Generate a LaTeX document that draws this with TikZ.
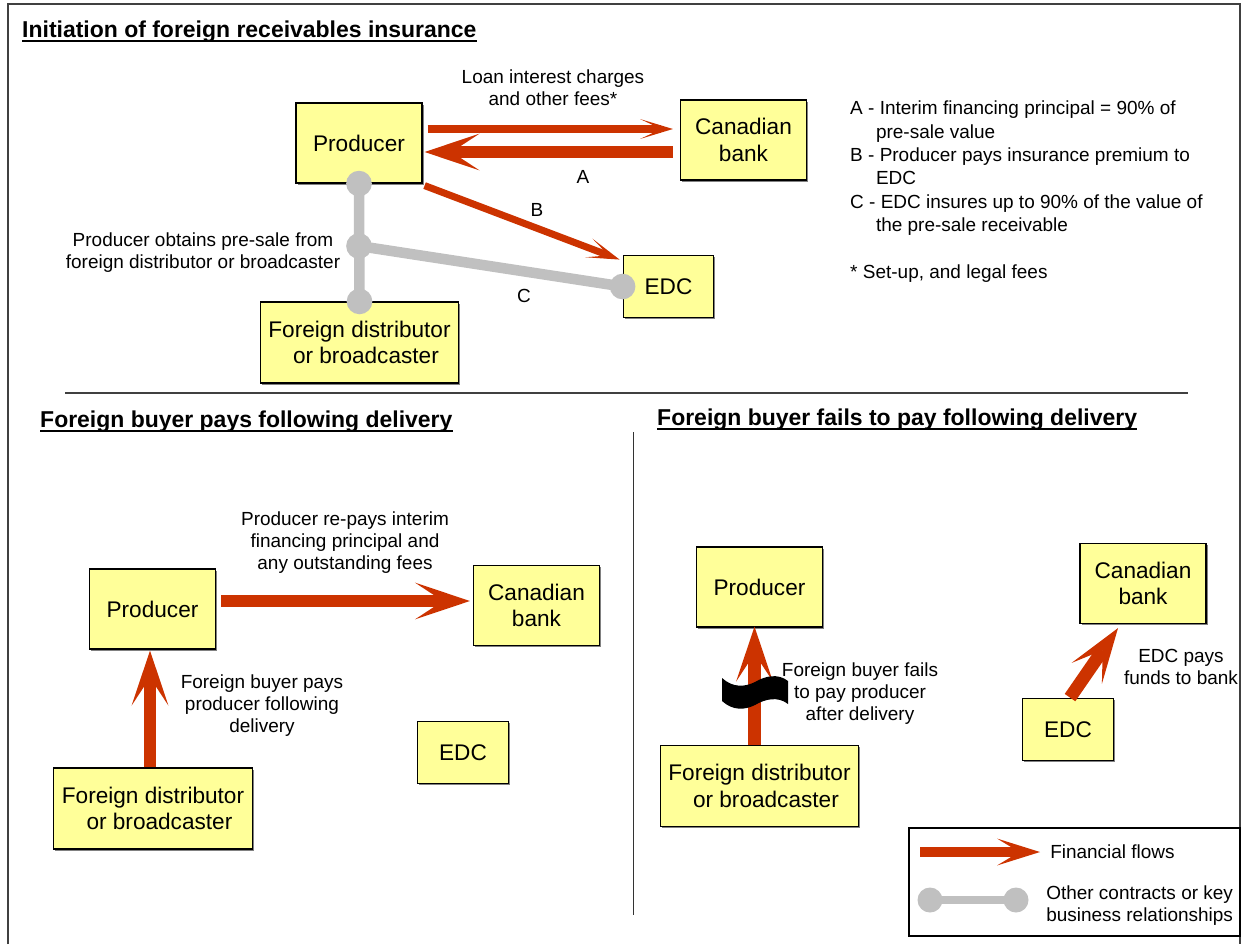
\documentclass[tikz,border=0pt]{standalone}
\usepackage{fontspec}
\setmainfont{Liberation Sans}
\usetikzlibrary{arrows.meta,calc,shadows}

\definecolor{boxyellow}{HTML}{FFFF99}
\definecolor{flowred}{HTML}{CC3300}
\definecolor{linkgrey}{HTML}{C0C0C0}

\tikzset{
  box/.style={draw=black, line width=1pt, fill=boxyellow, align=center, inner sep=2pt,
    font=\fontsize{19.3}{22.5}\selectfont,
    drop shadow={shadow xshift=1.3pt, shadow yshift=-1.3pt, fill=black!55, opacity=.9}},
  widebox/.style={box, minimum width=3.78cm, minimum height=2.4cm},
  smallbox/.style={box, minimum width=2.72cm, minimum height=1.88cm},
  distbox/.style={box, minimum width=5.96cm, minimum height=2.43cm},
  lbl/.style={align=center, inner sep=0pt, font=\fontsize{16.2}{18.8}\selectfont},
  heading/.style={anchor=base west, inner sep=0pt, font=\bfseries\fontsize{19.6}{23}\selectfont},
  thinflow/.style={draw=flowred, line width=6pt,
    -{Stealth[length=28pt, width=17pt, inset=18pt, line width=0pt]}},
  thickflow/.style={draw=flowred, line width=11pt,
    -{Stealth[length=47pt, width=31.5pt, inset=24pt, line width=0pt]}},
  legflow/.style={draw=flowred, line width=8.5pt,
    -{Stealth[length=36.7pt, width=23pt, inset=19pt, line width=0pt]}},
  link/.style={draw=linkgrey, line width=9pt},
  rule/.style={draw=black!75, line width=1.5pt}
}

\begin{document}
\begin{tikzpicture}[x=0.03cm, y=-0.03cm]
  \useasboundingbox (0,0) rectangle (1243,944);
  \draw[rule] (8,944) -- (8,4) -- (1240,4) -- (1240,944);

  % initiation
  \node[heading] (t1) at (22,37) {Initiation of foreign receivables insurance};
  \draw[line width=2pt] ($(t1.base west)+(0,4)$) -- ($(t1.base east)+(0,4)$);

  \node[widebox] (p1) at (359,143) {Producer};
  \node[widebox] (b1) at (743.5,140) {Canadian\\bank};
  \node[smallbox] (e1) at (668.5,286.5) {EDC};
  \node[distbox] (d1) at (359.5,342.5) {Foreign distributor\\\hspace*{11pt}or broadcaster};

  \draw[thinflow] ($(p1.east)+(5,-14)$) -- ($(b1.west)+(-7,-11)$);
  \draw[thickflow] ($(b1.west)+(-7,12)$) -- ($(p1.east)+(2,9)$);
  \draw[thinflow] ($(p1.south east)+(2,2)$) -- ($(e1.north west)+(-3,5)$);

  \coordinate (j1) at (359,246);
  \draw[link] (p1.south) -- (d1.north);
  \draw[link] (j1) -- (e1.west);
  \foreach \pt in {p1.south, j1, d1.north, e1.west}
    \fill[linkgrey] (\pt) circle (0.385cm);

  \node[lbl] (lf) at (553,88) {Loan interest charges\\and other fees*};
  \node[lbl] (la) at (583,177) {A};
  \node[lbl] (lb) at (537,210) {B};
  \node[lbl] (lc) at (524,296) {C};
  \node[lbl] (lo) at (203,253) {Producer obtains pre-sale from\\foreign distributor or broadcaster};
  \node[lbl, align=left, anchor=north west, font=\fontsize{16.2}{19.9}\selectfont] (nt) at (850,101)
    {A - Interim financing principal = 90\% of\\
     \hspace*{22pt}pre-sale value\\
     B - Producer pays insurance premium to\\
     \hspace*{22pt}EDC\\
     C - EDC insures up to 90\% of the value of\\
     \hspace*{22pt}the pre-sale receivable\\[19.9pt]
     * Set-up, and legal fees};

  \draw[rule] (65,393) -- (1188,393);

  % buyer pays
  \node[heading] (t2) at (40,427) {Foreign buyer pays following delivery};
  \draw[line width=2pt] ($(t2.base west)+(0,4)$) -- ($(t2.base east)+(0,4)$);

  \node[widebox] (p2) at (152.5,609) {Producer};
  \node[widebox] (b2) at (536.5,605.5) {Canadian\\bank};
  \node[smallbox] (e2) at (463,752.5) {EDC};
  \node[distbox] (d2) at (153,808.5) {Foreign distributor\\\hspace*{11pt}or broadcaster};

  \draw[thickflow] ($(p2.east)+(5,-8)$) -- ($(b2.west)+(-3,-4.5)$);
  \draw[thickflow] ($(d2.north)+(-3,0)$) -- ($(p2.south)+(-2.5,1)$);

  \node[lbl] (lr) at (345,543) {Producer re-pays interim\\financing principal and\\any outstanding fees};
  \node[lbl] (lp) at (262,706) {Foreign buyer pays\\producer following\\delivery};

  \draw[draw=black!80, line width=.8pt] (633,432) -- (633,915);

  % buyer fails
  \node[heading] (t3) at (657,425) {Foreign buyer fails to pay following delivery};
  \draw[line width=2pt] ($(t3.base west)+(0,4)$) -- ($(t3.base east)+(0,4)$);

  \node[widebox] (p3) at (759.5,587) {Producer};
  \node[distbox] (d3) at (759.5,786) {Foreign distributor\\\hspace*{11pt}or broadcaster};
  \node[widebox] (b3) at (1143,583.5) {Canadian\\bank};
  \node[smallbox] (e3) at (1068,729.5) {EDC};

  \draw[thickflow] ($(d3.north)+(-5,0)$) -- ($(p3.south)+(-5,-1)$);
  \fill[black] (722,678) .. controls (733,688) and (745,687) .. (755,682)
    .. controls (765,676) and (778,673) .. (788,681) -- (788,704)
    .. controls (778,696) and (765,699) .. (755,705)
    .. controls (745,710) and (733,711) .. (722,701) -- cycle;
  \draw[thickflow] ($(e3.north)+(2,0)$) -- ($(b3.south)+(-25,4)$);

  \node[lbl] (lx) at (860,694) {Foreign buyer fails\\to pay producer\\after delivery};
  \node[lbl] (le) at (1181,667) {EDC pays\\funds to bank};

  % key
  \draw[line width=1pt] (909,828) rectangle (1240,936);
  \coordinate (fa) at (920,852);
  \coordinate (fb) at (1040,852);
  \draw[legflow] (fa) -- (fb);
  \node[lbl, anchor=west] (lt1) at (1050,852) {Financial flows};
  \coordinate (ga) at (930,900);
  \coordinate (gb) at (1016,900);
  \draw[link, line width=7pt] (ga) -- (gb);
  \foreach \pt in {ga, gb}
    \fill[linkgrey] (\pt) circle (0.375cm);
  \node[lbl, align=left, anchor=west] (lt2) at (1046,906) {Other contracts or key\\business relationships};
\end{tikzpicture}
\end{document}
